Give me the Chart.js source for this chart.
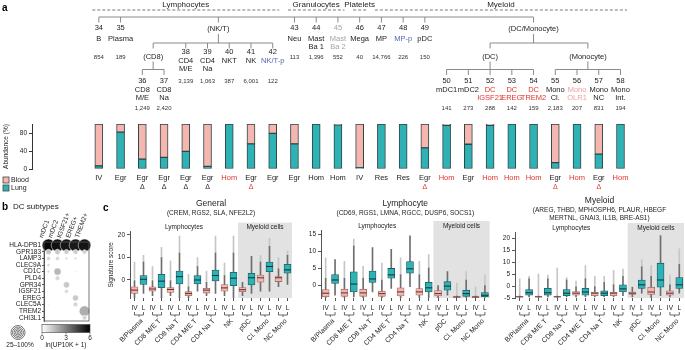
<!DOCTYPE html>
<html>
<head>
<meta charset="utf-8">
<title>Lung immune atlas figure</title>
<script src="https://cdn.jsdelivr.net/npm/chart.js@4"></script>
<style>
html,body{margin:0;padding:0;background:#fff;width:685px;height:350px;overflow:hidden;position:relative}
canvas{position:absolute;display:block}
</style>
</head>
<body>
<canvas id="chartA" width="685" height="196" style="left:0;top:0"></canvas>
<canvas id="chartB" width="100" height="154" style="left:0;top:196px"></canvas>
<canvas id="chartC1" width="200" height="154" style="left:100px;top:196px"></canvas>
<canvas id="chartC2" width="200" height="154" style="left:290px;top:196px"></canvas>
<canvas id="chartC3" width="195" height="154" style="left:490px;top:196px"></canvas>
<script>
// ================= DATA =================
// Panel a: clusters
const clusterIds = [34,35,36,37,38,39,40,41,42,43,44,45,46,47,48,49,50,51,52,53,54,55,56,57,58];
const clusterNames = [['B'],['Plasma'],['CD8','M/E'],['CD8','Na'],['CD4','M/E'],['CD4','Na'],['NKT'],['NK'],['NK/T-p'],
  ['Neu'],['Mast','Ba 1'],['Mast','Ba 2'],['Mega'],['MP'],['MP-p'],['pDC'],['mDC1'],['mDC2'],['DC','IGSF21'],['DC','EREG'],
  ['DC','TREM2'],['Mono','Cl.'],['Mono','OLR1'],['Mono','NC'],['Mono','Int.']];
const cellCounts = ['854','189','1,249','2,420','3,139','1,063','387','6,001','122','113','1,396','552','40','14,766','226',
  '150','141','273','288','142','159','2,183','207','831','194'];
// name colour class: 0 normal, 1 blue (proliferating), 2 grey, 3 red, 4 light red
const nameClass = [0,0,0,0,0,0,0,0,1,0,0,2,0,0,1,0,0,0,3,3,3,0,4,0,0];
const lungPct = [7,82,22,26,39,6,100,56,79,56,100,98,3,100,100,47,97,55,97,100,100,14,100,33,100];
const patternLabels = ['IV','Egr','Egr','Egr','Egr','Egr','Hom','Egr','Egr','Egr','Hom','Hom','IV','Res','Res','Egr',
  'Hom','Egr','Hom','Hom','Hom','Egr','Hom','Egr','Hom'];
const patternRed = [0,0,0,0,0,0,1,0,0,0,0,0,0,0,0,0,1,0,1,1,1,0,1,0,1];
// 0: no delta, 1: black delta, 2: red delta
const deltaMark = [0,0,1,1,1,1,0,2,0,0,0,0,0,0,0,2,0,0,0,0,0,2,0,2,0];
const abundTicks = [0,20,40,60,80,100];
const lineageNames = ['Lymphocytes','Granulocytes','Platelets','Myeloid'];
const lineageFirst = [0,9,12,13];
const lineageLast = [8,11,12,24];
// hierarchy: internal nodes (position in cluster index units), level, children
const treeNodes = [
  {label:'', at:null, level:0, kids:[0,1,5.5,9,10,11,12,13,14,15,20]},
  {label:'(NK/T)', at:5.5, level:1, kids:[2.5,4,5,6,7,8]},
  {label:'(CD8)', at:2.5, level:2, kids:[2,3]},
  {label:'(DC/Monocyte)', at:20, level:1, kids:[18,22.5]},
  {label:'(DC)', at:18, level:2, kids:[16,17,18,19,20]},
  {label:'(Monocyte)', at:22.5, level:2, kids:[21,22,23,24]}
];

// Panel b: DC subtype dot plot
const dcSubtypes = ['mDC1','mDC2','IGSF21+','EREG+','TREM2+'];
const dcGenes = ['HLA-DPB1','GPR183','LAMP3','CLEC9A','CD1C','PLD4','GPR34','IGSF21','EREG','CLEC5A','TREM2','CHI3L1'];
const dcPct = [
  [100,100,100,100,100],
  [18,18,15,15,12],
  [10,10,5,5,0],
  [6,0,0,0,0],
  [5,32,0,2,0],
  [0,14,0,0,0],
  [0,0,24,0,0],
  [0,0,10,0,0],
  [0,0,0,22,0],
  [2,0,0,14,0],
  [0,0,0,0,70],
  [0,0,0,0,14]];
const dcExpr = [
  [5.8,5.6,5.5,5.4,5.5],
  [1.4,1.3,1.2,1.2,1.1],
  [1.0,1.0,0.8,0.8,0],
  [0.9,0,0,0,0],
  [0.8,1.7,0,0.5,0],
  [0,0.9,0,0,0],
  [0,0,1.3,0,0],
  [0,0,0.9,0,0],
  [0,0,0,1.3,0],
  [0.5,0,0,1.0,0],
  [0,0,0,0,1.9],
  [0,0,0,0,1.0]];
const colorbarTicks = [0,3,6];

// Panel c: signature scores (order: IV, L per group)
const boxGroups = ['B/Plasma','CD8 M/E T','CD8 Na T','CD4 M/E T','CD4 Na T','NK','pDC','Cl. Mono','NC Mono'];
const tissues = ['IV','L'];
const genLo  = [-8,-6,-7,-8,-7,-8,-8,-5,-7,-6,-7,-8,-7,-6,-5,-5,-3,-2];
const genQ1  = [-6,-2,-5,-3.4,-5.5,-1.8,-7,-1.8,-5.8,-0.4,-5,-2.5,-5.2,-2.2,-1,3.7,-0.7,3];
const genMed = [-4.5,0.3,-4,-0.5,-4.2,1.5,-6,0,-4.5,2,-3.5,0.8,-4.3,1,1,6,1,4.5];
const genQ3  = [-3,2,-3,2.5,-3.4,4,-5.2,2,-3.7,4.4,-2,3.4,-3.4,3,2.2,8,1.5,7];
const genHi  = [0,8,0,10,0,12,-3,6,-1,12,2,12,-1,10.5,8,15,5,11];
const genOut = [8,11,6,14.5,8.5,19.5,2.5,10,4,19.5,7.5,19.5,null,null,11,18.5,10,13];

const lymLo  = [-3.8,-3,-3.8,-3.5,-3.8,-2,-3.8,-1,-3.8,-0.5,-3.8,-3.8,-3.8,-3,-3.8,-3.6,-3.8,-3.6];
const lymQ1  = [-3.4,0.5,-3.3,-2,-3.3,0.8,-3.3,2,-3.2,3.5,-3,-2,-3.2,-1.5,-3.6,-3.3,-3.6,-3.4];
const lymMed = [-2.4,1.5,-2.3,0.3,-2.3,1.8,-2.5,3,-2,4.8,-2,-0.8,-2.5,-0.3,-3.5,-2.5,-3.5,-3];
const lymQ3  = [-1.3,3.1,-1.2,3.9,-1.2,4.1,-1.8,4.9,-0.8,6.9,-1,0.8,-1.6,1,-3.4,-1.5,-3.4,-2.2];
const lymHi  = [2,7.5,2,11.5,2,11,1.5,10.5,3,14.5,3,5,0,4,-3.2,1.5,-3.2,0];
const lymOut = [8,null,7,13.5,5.5,null,6.5,null,8,null,7,9,null,null,0.5,4,-0.5,3];

const myeLo  = [-4.8,-4.5,-4.8,-4.5,-4.8,-4.5,-4.5,-4.5,-4.5,-4.5,-4.5,-4,-4.5,-3,-5,-4,-4.5,-3];
const myeQ1  = [-4.6,-3.8,-4.6,-3.8,-4.6,-4,-3.8,-3.8,-4,-4,-4,-2.5,-3.5,-1,-3.5,-0.5,-3.8,-1];
const myeMed = [-4.5,-2.8,-4.5,-2.8,-4.5,-3,-3,-2.5,-3,-3,-3,-1.2,-3,0.5,-2.5,2.5,-3,0.5];
const myeQ3  = [-4.4,-1.5,-4.4,-1,-4.4,-1.5,-2.3,-1,-2.5,-2,-2.5,0.5,-2.5,2.5,-0.5,9.5,-2,3.5];
const myeHi  = [-4.2,3,-4.2,3,-4.2,2.5,0,3,0,1.5,0.5,4,-0.5,8,4,21,0.5,9];
const myeOut = [3,4,5,4.5,7.5,3.5,2,8.5,4,4,6.5,7,null,11,8.5,null,4.5,15.5];

const generalTicks = [0,10,20];
const lymphTicks = [0,5,10,15];
const myeloidTicks = [-5,0,5,10,15,20];

// ================= STYLE / HELPERS =================
const FONT = '"Liberation Sans", Arial, Helvetica, sans-serif';
Chart.defaults.font.family = FONT;
Chart.defaults.color = '#222';
Chart.defaults.animation = false;
Chart.defaults.responsive = false;
Chart.defaults.plugins.legend.display = false;
Chart.defaults.plugins.tooltip.enabled = false;

const TEAL = '#2fb2b5', TEAL_EDGE = '#1f5a5c', TEAL_MED = '#143a3b';
const PINK = '#f4b6af', PINK_EDGE = '#a06e68', PINK_MED = '#6a3a36';
const RED = '#e0332f';
const NAME_COLORS = ['#222', '#5567b0', '#a3a3a3', RED, '#f0a0a0'];

function txt(ctx, s, x, y, size, color, o) {
  o = o || {};
  ctx.font = (o.bold ? 'bold ' : '') + size + 'px ' + FONT;
  ctx.fillStyle = color || '#222';
  ctx.textAlign = o.align || 'center';
  ctx.textBaseline = o.base || 'middle';
  ctx.fillText(s, x, y);
}
function path(ctx, pts) {
  ctx.beginPath();
  ctx.moveTo(pts[0][0], pts[0][1]);
  for (let k = 1; k < pts.length; k++) ctx.lineTo(pts[k][0], pts[k][1]);
  ctx.stroke();
}

// ================= PANEL A =================
const panelAPlugin = {
  id: 'panelA',
  afterDraw(chart) {
    const ctx = chart.ctx, X = v => chart.scales.x.getPixelForValue(v);
    ctx.save();
    txt(ctx, 'a', 2, 8, 10, '#000', {bold: true, align: 'left'});
    // lineage headers with dashed rules
    ctx.strokeStyle = '#555'; ctx.lineWidth = 0.8; ctx.setLineDash([3, 2]);
    lineageNames.forEach((n, k) => {
      const x0 = X(lineageFirst[k] - 0.3), x1 = Math.min(X(lineageLast[k] + 0.3), chart.width - 2);
      path(ctx, [[x0, 10], [x1, 10]]);
      txt(ctx, n, (x0 + x1) / 2, 4.5, 8, '#222');
    });
    ctx.setLineDash([]);
    // hierarchy
    const branchY = [17, 43, 69.5], labelY = [0, 29, 56.5];
    const rowY = [[28, 39, 47, 57], [52, 60.5, 68.5, 81], [81, 90, 98, 108]];
    const leafLevel = {};
    ctx.strokeStyle = '#8a8a8a'; ctx.lineWidth = 1;
    treeNodes.forEach(nd => {
      const hy = branchY[nd.level];
      if (nd.label) {
        txt(ctx, nd.label, X(nd.at), labelY[nd.level], 7.5, '#222');
        path(ctx, [[X(nd.at), labelY[nd.level] + 5], [X(nd.at), hy]]);
      }
      path(ctx, [[X(Math.min(...nd.kids)), hy], [X(Math.max(...nd.kids)), hy]]);
      nd.kids.forEach(k => {
        path(ctx, [[X(k), hy], [X(k), hy + 5.5]]);
        if (Number.isInteger(k)) leafLevel[k] = nd.level;
      });
    });
    // leaves
    clusterIds.forEach((id, i) => {
      const r = rowY[leafLevel[i]], x = X(i);
      const col = NAME_COLORS[nameClass[i]];
      txt(ctx, String(id), x, r[0], 7.5, nameClass[i] === 2 ? col : '#222');
      clusterNames[i].forEach((ln, j) => txt(ctx, ln, x, r[1 + j], 7.5, col));
      txt(ctx, cellCounts[i], x, r[3], 6, '#333');
    });
    // pattern labels under bars
    const base = chart.chartArea.bottom;
    patternLabels.forEach((p, i) => {
      txt(ctx, p, X(i), base + 9, 7.5, patternRed[i] ? RED : '#222');
      if (deltaMark[i]) txt(ctx, '\u0394', X(i), base + 18, 7, deltaMark[i] === 2 ? RED : '#222');
    });
    // legend
    ctx.lineWidth = 0.8; ctx.strokeStyle = '#444';
    [['Blood', PINK], ['Lung', TEAL]].forEach((e, k) => {
      const y = base + 11 + k * 8;
      ctx.fillStyle = e[1];
      ctx.fillRect(3, y - 3, 6, 6); ctx.strokeRect(3, y - 3, 6, 6);
      txt(ctx, e[0], 11, y, 7, '#222', {align: 'left'});
    });
    ctx.restore();
  }
};

new Chart(document.getElementById('chartA'), {
  type: 'bar',
  data: {
    datasets: [
      {label: 'Lung', data: lungPct.map((v, i) => ({x: i, y: v})), backgroundColor: TEAL,
       borderColor: '#2d4545', borderWidth: 1, borderSkipped: false, barThickness: 8},
      {label: 'Blood', data: lungPct.map((v, i) => ({x: i, y: 100 - v})), backgroundColor: PINK,
       borderColor: '#2d4545', borderWidth: 1, borderSkipped: false, barThickness: 8}
    ]
  },
  options: {
    layout: {padding: {top: 124, right: 1, bottom: 27, left: 0}},
    scales: {
      x: {type: 'linear', stacked: true, display: false, min: -0.575, max: 24.422},
      y: {stacked: true, min: 0, max: 100,
          afterFit(s) { s.width = 32; },
          afterBuildTicks(s) { s.ticks = abundTicks.map(v => ({value: v})); },
          grid: {drawOnChartArea: false, tickLength: 3, color: '#333'},
          border: {color: '#333'},
          ticks: {font: {size: 6.5}, padding: 2, color: '#222'},
          title: {display: true, text: 'Abundance (%)', font: {size: 6.5}, padding: {top: 2, bottom: 0}}}
    }
  },
  plugins: [panelAPlugin]
});

// ================= PANEL B =================
const dotData = [];
dcGenes.forEach((g, r) => dcSubtypes.forEach((s, c) => {
  if (dcPct[r][c] > 0) dotData.push({x: s, y: g, p: dcPct[r][c], e: dcExpr[r][c]});
}));
function grayFor(e) {
  const v = Math.round(255 * (1 - Math.min(e, 6) / 6));
  return 'rgb(' + v + ',' + v + ',' + v + ')';
}
const panelBPlugin = {
  id: 'panelB',
  afterDraw(chart) {
    const ctx = chart.ctx, a = chart.chartArea;
    ctx.save();
    ctx.strokeStyle = '#555'; ctx.lineWidth = 0.8;
    ctx.strokeRect(a.left, a.top, a.right - a.left, a.bottom - a.top);
    txt(ctx, 'b', 2, 11, 10, '#000', {bold: true, align: 'left'});
    txt(ctx, 'DC subtypes', 13, 11, 8, '#222', {align: 'left'});
    // size legend (concentric rings)
    ctx.strokeStyle = '#555'; ctx.lineWidth = 0.8;
    [7, 5.5, 4, 2.5, 1].forEach(r => { ctx.beginPath(); ctx.arc(18, 136.5, r, 0, Math.PI * 2); ctx.stroke(); });
    txt(ctx, '25\u2013100%', 20, 149, 6.5, '#222');
    // colour bar
    const x0 = 42, x1 = 90, y0 = 128.5, y1 = 136.5;
    const g = ctx.createLinearGradient(x0, 0, x1, 0);
    g.addColorStop(0, '#ffffff'); g.addColorStop(1, '#000000');
    ctx.fillStyle = g; ctx.fillRect(x0, y0, x1 - x0, y1 - y0);
    ctx.strokeStyle = '#444'; ctx.lineWidth = 0.6; ctx.strokeRect(x0, y0, x1 - x0, y1 - y0);
    colorbarTicks.forEach(t => {
      const x = x0 + (x1 - x0) * t / 6;
      path(ctx, [[x, y1], [x, y1 + 2]]);
      txt(ctx, String(t), x, y1 + 5.5, 6.5, '#222');
    });
    txt(ctx, 'ln(UP10K + 1)', (x0 + x1) / 2, 149, 6.5, '#222');
    ctx.restore();
  }
};
new Chart(document.getElementById('chartB'), {
  type: 'bubble',
  data: {datasets: [{
    data: dotData, clip: false,
    radius: c => c.raw ? 6.3 * Math.sqrt(c.raw.p / 100) : 0,
    backgroundColor: c => grayFor(c.raw ? c.raw.e : 0),
    borderColor: '#ffffff', borderWidth: 0.5
  }]},
  options: {
    layout: {padding: {top: 14, right: 11, bottom: 29, left: 0}},
    scales: {
      x: {type: 'category', labels: dcSubtypes, position: 'top', offset: true,
          grid: {drawOnChartArea: false, tickLength: 2, color: '#555'}, border: {color: '#555'},
          ticks: {font: {size: 6.5}, minRotation: 70, maxRotation: 70, autoSkip: false, padding: 1, color: '#222'},
          afterFit(s) { s.height = 32; }},
      y: {type: 'category', labels: dcGenes, offset: true,
          grid: {drawOnChartArea: false, tickLength: 2, color: '#555'}, border: {color: '#555'},
          ticks: {font: {size: 6.5}, autoSkip: false, padding: 1, color: '#222'},
          afterFit(s) { s.width = 44; }}
    }
  },
  plugins: [panelBPlugin]
});

// ================= PANEL C =================
function boxChart(id, sig, cfg) {
  const labels = boxGroups.flatMap(() => tissues);
  const isIV = labels.map(t => t === 'IV');
  const H = document.getElementById(id).height;
  const deco = {
    id: 'deco' + id,
    beforeDatasetsDraw(c) {
      const ctx = c.ctx, a = c.chartArea, xs = c.scales.x;
      const xm = (xs.getPixelForValue(11) + xs.getPixelForValue(12)) / 2;
      ctx.save();
      ctx.fillStyle = '#e2e2e2';
      ctx.fillRect(xm, a.top - 9, a.right - xm, a.bottom - a.top + 9);
      ctx.restore();
    },
    afterDatasetsDraw(c) {
      const ctx = c.ctx, xs = c.scales.x, ys = c.scales.y;
      ctx.save(); ctx.lineWidth = 1.1;
      sig.med.forEach((m, i) => {
        const x = xs.getPixelForValue(i), y = ys.getPixelForValue(m);
        ctx.strokeStyle = isIV[i] ? PINK_MED : TEAL_MED;
        path(ctx, [[x - 3.5, y], [x + 3.5, y]]);
      });
      ctx.restore();
    },
    afterDraw(c) {
      const ctx = c.ctx, a = c.chartArea, xs = c.scales.x;
      const X = v => xs.getPixelForValue(v);
      const xm = (X(11) + X(12)) / 2, cx = (a.left + a.right) / 2;
      ctx.save();
      if (cfg.letter) txt(ctx, cfg.letter, 3, 12, 10, '#000', {bold: true, align: 'left'});
      txt(ctx, cfg.title, cx, cfg.titleY, 8.5, '#222');
      cfg.sub.forEach((s, k) => txt(ctx, s, cx, cfg.titleY + 9 + k * 8, 6.5, '#222'));
      txt(ctx, 'Lymphocytes', (a.left + xm) / 2, a.top - 4, 6.5, '#222');
      txt(ctx, 'Myeloid cells', (xm + a.right) / 2, a.top - 4, 6.5, '#222');
      // brackets + group names
      ctx.strokeStyle = '#444'; ctx.lineWidth = 0.8;
      const y1 = a.bottom + 14, y2 = a.bottom + 17;
      boxGroups.forEach((g, k) => {
        const xa = X(2 * k), xb = X(2 * k + 1), gx = (xa + xb) / 2;
        path(ctx, [[xa, y1], [xa, y2], [xb, y2], [xb, y1]]);
        path(ctx, [[gx, y2], [gx, y2 + 2]]);
        ctx.save();
        ctx.translate(gx + 3, y2 + 5);
        ctx.rotate(-Math.PI / 4);
        txt(ctx, g, 0, 0, 7, '#222', {align: 'right'});
        ctx.restore();
      });
      ctx.restore();
    }
  };
  return new Chart(document.getElementById(id), {
    type: 'bar',
    data: {labels, datasets: [
      {data: sig.q1.map((v, i) => [v, sig.q3[i]]), backgroundColor: isIV.map(b => b ? PINK : TEAL),
       borderColor: isIV.map(b => b ? PINK_EDGE : TEAL_EDGE), borderWidth: 0.8, borderSkipped: false,
       barThickness: 7, grouped: false, order: 1},
      {data: sig.lo.map((v, i) => [v, sig.hi[i]]), backgroundColor: '#6e6e6e', barThickness: 1, grouped: false, order: 2},
      {data: sig.out.map((v, i) => v == null ? null : [sig.hi[i], v]), backgroundColor: '#c6c6c6', barThickness: 1, grouped: false, order: 3}
    ]},
    options: {
      layout: {padding: {top: cfg.padTop, right: cfg.padRight, bottom: 0, left: 0}},
      scales: {
        x: {offset: true,
            grid: {drawOnChartArea: false, offset: false, tickLength: 3, color: '#555'}, border: {display: false},
            ticks: {font: {size: 6.5}, padding: 3, maxRotation: 0, autoSkip: false, color: '#222'},
            afterFit(s) { s.height = H - cfg.bottom; }},
        y: {min: cfg.min, max: cfg.max,
            afterFit(s) { s.width = cfg.yw; },
            afterBuildTicks(s) { s.ticks = cfg.ticks.map(v => ({value: v})); },
            grid: {drawOnChartArea: false, tickLength: 3, color: '#555'}, border: {color: '#555'},
            ticks: {font: {size: 6.5}, padding: 2, color: '#222'},
            title: cfg.ytitle ? {display: true, text: cfg.ytitle, font: {size: 6.5}, padding: {top: 7, bottom: 0}} : {display: false}}
      }
    },
    plugins: [deco]
  });
}

boxChart('chartC1', {lo: genLo, q1: genQ1, med: genMed, q3: genQ3, hi: genHi, out: genOut},
  {padTop: 35.6, padRight: 8, bottom: 102, yw: 30, min: -8, max: 21.5, ticks: generalTicks,
   ytitle: 'Signature score', title: 'General', sub: ['(CREM, RGS2, SLA, NFE2L2)'], titleY: 8, letter: 'c'});
boxChart('chartC2', {lo: lymLo, q1: lymQ1, med: lymMed, q3: lymQ3, hi: lymHi, out: lymOut},
  {padTop: 34, padRight: 0.4, bottom: 102, yw: 31, min: -3.8, max: 16.2, ticks: lymphTicks,
   title: 'Lymphocyte', sub: ['(CD69, RGS1, LMNA, RGCC, DUSP6, SOCS1)'], titleY: 8});
boxChart('chartC3', {lo: myeLo, q1: myeQ1, med: myeMed, q3: myeQ3, hi: myeHi, out: myeOut},
  {padTop: 36, padRight: 1, bottom: 102, yw: 25, min: -5, max: 22.5, ticks: myeloidTicks,
   title: 'Myeloid', sub: ['(AREG, THBD, MPHOSPH6, PLAUR, HBEGF', 'MERTNL, GNAI3, IL1B, BRE-AS1)'], titleY: 5});
</script>
</body>
</html>
